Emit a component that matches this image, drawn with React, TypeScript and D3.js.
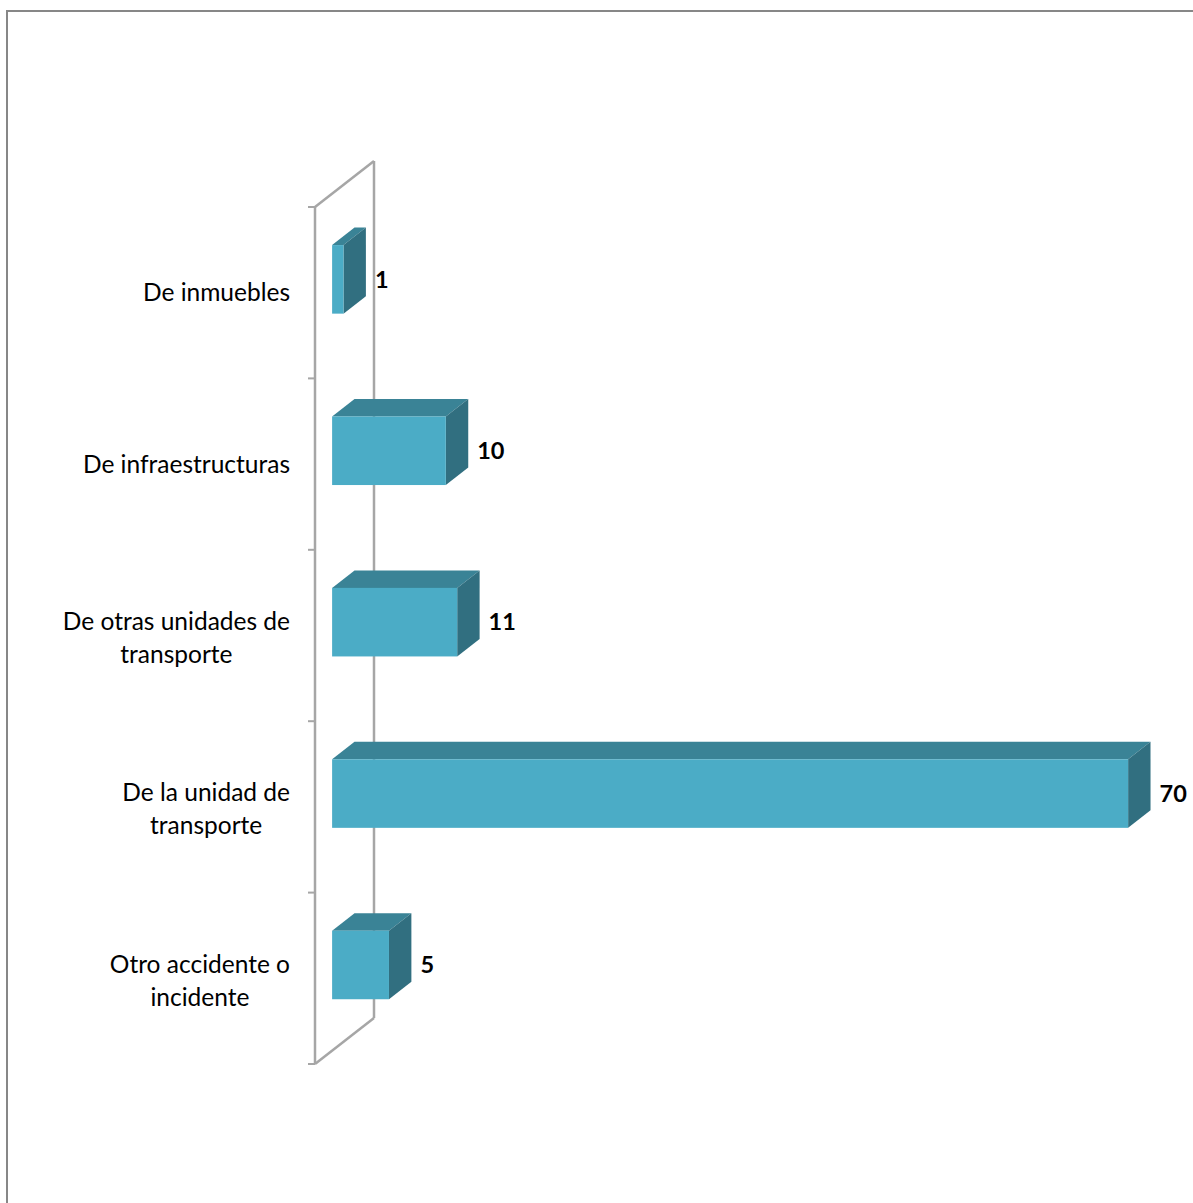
import React from "react";
import * as d3 from "d3";

const categories = [
  "De inmuebles",
  "De infraestructuras",
  "De otras unidades de transporte",
  "De la unidad de transporte",
  "Otro accidente o incidente",
];
const labelLines = [
  ["De inmuebles"],
  ["De infraestructuras"],
  ["De otras unidades de", "transporte"],
  ["De la unidad de", "transporte"],
  ["Otro accidente o", "incidente"],
];
const values = [1, 10, 11, 70, 5];

const W = 1193;
const H = 1203;

export default function App() {
  const frontX = 315;
  const yTop = 207;
  const yBot = 1064;
  const depthDX = 59;
  const depthDY = -46;
  const barOff = 0.29;
  const barDepth = 0.38;

  const y = d3
    .scaleBand<string>()
    .domain(categories)
    .range([yTop, yBot])
    .paddingInner(0.6)
    .paddingOuter(0.3);
  const x = d3.scaleLinear().domain([0, 70]).range([0, 796]);

  const offX = depthDX * barOff;
  const offY = depthDY * barOff;
  const bdx = depthDX * barDepth;
  const bdy = depthDY * barDepth;

  const font = "Lato, 'Open Sans', sans-serif";
  const labelSize = 24.5;
  const labelRight = 290;

  const measure = (t: string, size: number) => {
    if (typeof document === "undefined") return t.length * size * 0.5;
    const c = document.createElement("canvas").getContext("2d");
    if (!c) return t.length * size * 0.5;
    c.font = `${size}px Lato`;
    return c.measureText(t).width;
  };

  const ticks = d3.range(categories.length + 1).map((i) => yTop + i * ((yBot - yTop) / categories.length));

  const gray = "#A6A6A6";

  return (
    <svg
      width={W}
      height={H}
      style={{ position: "absolute", left: 0, top: 0, background: "#fff" }}
    >
      <rect x={7} y={11} width={W + 20} height={H + 20} fill="#fff" stroke="#878787" strokeWidth={2} />
      <line x1={frontX + depthDX} y1={yTop + depthDY} x2={frontX + depthDX} y2={yBot + depthDY} stroke={gray} strokeWidth={2.5} />
      <line x1={frontX} y1={yTop} x2={frontX + depthDX} y2={yTop + depthDY} stroke={gray} strokeWidth={2.5} />
      <line x1={frontX} y1={yBot} x2={frontX + depthDX} y2={yBot + depthDY} stroke={gray} strokeWidth={2.5} />
      <line x1={frontX} y1={yTop} x2={frontX} y2={yBot} stroke={gray} strokeWidth={2.5} />
      {ticks.map((t, i) => (
        <line key={i} x1={frontX - 7} x2={frontX} y1={t} y2={t} stroke={gray} strokeWidth={2} />
      ))}
      {categories.map((c, i) => {
        const v = values[i];
        const x0 = frontX + offX;
        const x1 = x0 + x(v);
        const y0 = (y(c) as number) + offY;
        const y1 = y0 + y.bandwidth();
        const top = [
          [x0, y0],
          [x1, y0],
          [x1 + bdx, y0 + bdy],
          [x0 + bdx, y0 + bdy],
        ];
        const side = [
          [x1, y0],
          [x1 + bdx, y0 + bdy],
          [x1 + bdx, y1 + bdy],
          [x1, y1],
        ];
        return (
          <g key={c}>
            <polygon points={top.map((p) => p.join(",")).join(" ")} fill="#3A8396" />
            <polygon points={side.map((p) => p.join(",")).join(" ")} fill="#316F80" />
            <rect x={x0} y={y0} width={x1 - x0} height={y1 - y0} fill="#4BACC6" />
            <text
              x={x1 + bdx + 9}
              y={(y0 + y1) / 2}
              dy="0.35em"
              fontFamily={font}
              fontWeight="bold"
              fontSize={23.5}
              fill="#000"
            >
              {v}
            </text>
          </g>
        );
      })}
      {categories.map((c, i) => {
        const lines = labelLines[i];
        const maxW = Math.max(...lines.map((l) => measure(l, labelSize)));
        const cx = labelRight - maxW / 2;
        const center = (y(c) as number) + y.bandwidth() / 2 + (lines.length > 1 ? 2.5 : 0);
        const lh = 33;
        return (
          <text key={c} textAnchor="middle" fontFamily={font} fontSize={labelSize} fill="#000">
            {lines.map((l, j) => (
              <tspan key={j} x={cx} y={center + (j - (lines.length - 1) / 2) * lh} dy="0.35em">
                {l}
              </tspan>
            ))}
          </text>
        );
      })}
    </svg>
  );
}
